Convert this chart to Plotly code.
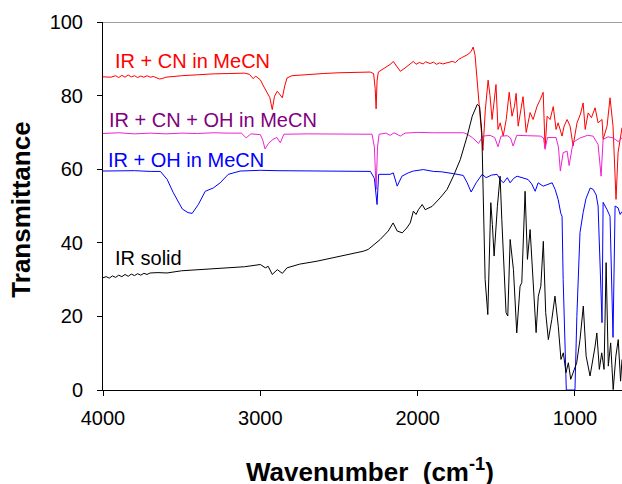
import plotly.graph_objects as go

# ---------------- data ----------------
red_wn = [4000, 3950, 3920, 3900, 3880, 3860, 3840, 3820, 3800, 3780, 3760, 3740, 3720, 3700, 3680, 3660,
          3640, 3620, 3600, 3500, 3400, 3300, 3200, 3100, 3070, 3045, 3030, 3000, 2980, 2960, 2940, 2924,
          2910, 2892, 2875, 2860, 2845, 2830, 2800, 2700, 2600, 2500, 2400, 2302, 2280, 2270, 2264, 2258,
          2250, 2220, 2190, 2170, 2155, 2140, 2120, 2110, 2080, 2050, 2027, 2010, 1990, 1964, 1950, 1920,
          1900, 1880, 1860, 1840, 1820, 1800, 1780, 1760, 1740, 1720, 1700, 1680, 1660, 1647, 1635, 1620,
          1607, 1595, 1585, 1570, 1552, 1540, 1527, 1515, 1502, 1489, 1475, 1456, 1437, 1418, 1400, 1385,
          1374, 1361, 1345, 1330, 1310, 1298, 1285, 1266, 1241, 1221, 1202, 1190, 1177, 1158, 1138, 1120,
          1107, 1082, 1069, 1050, 1031, 1012, 987, 965, 948, 935, 916, 895, 872, 853, 828, 821, 796, 777,
          758, 739, 726, 701]
red_t = [85.1, 85.0, 85.4, 84.9, 85.5, 85.0, 85.6, 85.1, 85.4, 84.9, 85.3, 85.0, 85.4, 85.0, 85.2, 84.8,
         84.5, 84.7, 85.0, 85.4, 85.7, 85.9, 86.0, 86.1, 85.8, 84.6, 85.3, 84.3, 82.6, 81.0, 79.5, 76.2,
         79.8, 81.2, 80.2, 79.4, 82.6, 84.8, 85.4, 85.8, 86.0, 86.2, 86.3, 86.4, 86.0, 82.0, 76.4, 84.0,
         86.4, 87.2, 88.0, 88.6, 89.3, 88.3, 87.0, 86.6, 87.5, 88.4, 89.3, 88.5, 89.0, 88.6, 89.2, 88.7,
         89.1, 88.5, 88.9, 88.6, 88.9, 89.0, 89.3, 89.0, 89.8, 90.3, 90.8, 91.2, 92.0, 93.2, 91.0, 83.0,
         75.4, 69.0, 65.1, 76.0, 84.2, 80.0, 73.5, 78.0, 83.0, 70.8, 72.6, 69.0, 73.5, 80.9, 74.4, 77.0,
         80.6, 71.7, 76.0, 79.7, 70.0, 73.0, 75.4, 73.5, 77.1, 78.9, 80.9, 65.8, 74.4, 73.5, 77.0, 70.8,
         72.6, 69.0, 71.7, 73.5, 71.7, 66.3, 72.6, 75.0, 78.0, 70.8, 75.3, 74.0, 76.7, 72.6, 73.5, 68.1,
         71.7, 79.4, 71.7, 51.8, 64.5, 71.3]

mag_wn = [4000, 3900, 3800, 3700, 3600, 3500, 3400, 3300, 3200, 3120, 3090, 3060, 3000, 2985, 2970, 2948,
          2920, 2895, 2873, 2850, 2700, 2500, 2350, 2290, 2275, 2264, 2255, 2245, 2200, 2175, 2150, 2110,
          2080, 2000, 1900, 1800, 1707, 1680, 1650, 1613, 1585, 1540, 1510, 1489, 1470, 1430, 1410, 1393,
          1370, 1300, 1220, 1200, 1190, 1175, 1120, 1105, 1093, 1075, 1050, 1037, 1012, 967, 920, 885,
          853, 834, 821, 790, 758, 740, 726, 701]
mag_t = [69.7, 69.9, 69.6, 69.8, 69.6, 69.8, 69.7, 69.9, 69.8, 69.8, 68.5, 69.6, 69.4, 68.0, 65.5, 67.0,
         68.1, 68.6, 67.2, 69.5, 69.6, 69.5, 69.6, 69.5, 66.0, 54.5, 66.0, 69.5, 69.8, 69.2, 69.9, 69.0,
         69.8, 70.0, 69.9, 70.0, 69.9, 69.4, 68.5, 67.0, 69.0, 69.2, 68.6, 66.1, 69.0, 69.1, 68.5, 66.3,
         69.2, 69.1, 69.0, 68.5, 65.4, 68.6, 68.6, 66.0, 59.5, 64.5, 64.9, 61.0, 67.3, 68.5, 69.2, 69.0,
         66.7, 58.1, 68.1, 68.8, 68.5, 68.0, 67.5, 68.5]

blue_wn = [4000, 3800, 3700, 3635, 3592, 3553, 3496, 3460, 3433, 3394, 3350, 3299, 3255, 3204, 3128, 3000,
           2900, 2700, 2500, 2300, 2275, 2258, 2248, 2200, 2175, 2155, 2130, 2100, 2060, 2027, 1964, 1900,
           1850, 1773, 1710, 1685, 1660, 1628, 1590, 1565, 1530, 1495, 1475, 1455, 1430, 1412, 1390, 1368,
           1330, 1298, 1275, 1253, 1234, 1202, 1177, 1145, 1126, 1107, 1090, 1082, 1075, 1063, 1055, 1040,
           1025, 1010, 1000, 988, 968, 948, 930, 916, 903, 884, 865, 853, 840, 828, 821, 808, 796, 777,
           768, 758, 745, 726, 713, 701]
blue_t = [59.5, 59.6, 59.4, 59.4, 57.2, 53.6, 49.2, 48.2, 48.0, 50.4, 54.0, 54.9, 56.3, 58.6, 59.5, 59.7,
          59.6, 59.5, 59.5, 59.4, 57.5, 50.4, 58.6, 58.6, 58.6, 59.0, 55.4, 58.1, 59.0, 59.5, 59.9, 59.4,
          59.3, 58.8, 58.3, 56.3, 53.8, 56.3, 58.6, 57.7, 58.4, 58.6, 57.2, 56.3, 57.7, 56.3, 57.5, 58.1,
          57.7, 57.2, 56.0, 54.0, 56.3, 55.4, 55.8, 56.3, 54.5, 51.8, 48.0, 47.2, 30.0, 10.0, 0.0, 0.0,
          0.0, 0.0, 0.0, 20.0, 42.8, 48.2, 52.0, 53.5, 54.9, 54.5, 53.0, 50.0, 35.0, 18.3, 51.0, 50.0,
          49.0, 47.2, 30.0, 14.3, 50.0, 49.5, 47.7, 48.5]

blk_wn = [4000, 3980, 3960, 3940, 3920, 3900, 3880, 3860, 3840, 3820, 3800, 3780, 3760, 3740, 3720, 3700,
          3650, 3593, 3500, 3400, 3300, 3170, 3100, 3000, 2968, 2950, 2924, 2892, 2860, 2830, 2750, 2640,
          2500, 2400, 2346, 2314, 2280, 2238, 2187, 2156, 2130, 2098, 2070, 2047, 2027, 2010, 1995, 1971,
          1952, 1908, 1857, 1813, 1773, 1729, 1685, 1653, 1621, 1606, 1592, 1580, 1571, 1554, 1535, 1525,
          1514, 1493, 1476, 1465, 1438, 1427, 1412, 1391, 1370, 1349, 1338, 1317, 1302, 1285, 1264, 1247,
          1233, 1217, 1201, 1186, 1169, 1147, 1127, 1106, 1089, 1074, 1057, 1042, 1027, 1010, 989, 968,
          947, 929, 904, 872, 861, 845, 830, 815, 802, 788, 773, 757, 740, 725, 710, 701]
blk_t = [30.5, 30.8, 30.4, 31.0, 30.6, 31.2, 30.8, 31.4, 30.9, 31.5, 31.1, 31.6, 31.2, 31.7, 31.4, 31.8,
         31.9, 31.8, 32.4, 32.7, 33.0, 33.2, 33.5, 34.1, 33.2, 33.6, 31.4, 32.7, 31.7, 33.2, 34.2, 35.0,
         36.2, 37.2, 37.7, 38.2, 39.5, 40.9, 43.2, 45.4, 43.2, 42.7, 44.0, 45.4, 48.6, 47.7, 49.0, 50.4,
         49.0, 49.9, 52.2, 54.5, 58.1, 62.6, 69.0, 74.4, 77.6, 77.0, 70.0, 45.0, 30.0, 20.5, 50.9, 45.0,
         36.4, 49.9, 58.1, 46.3, 21.0, 20.1, 40.9, 32.7, 15.5, 28.2, 29.2, 54.0, 35.5, 43.6, 27.2, 15.6,
         25.5, 28.2, 40.4, 21.0, 13.7, 19.2, 25.5, 17.3, 8.3, 10.1, 4.7, 7.4, 2.9, 4.7, 7.4, 13.7,
         22.8, 9.2, 3.8, 11.9, 15.5, 5.6, 10.1, 5.6, 34.6, 6.5, 12.8, 0.1, 9.2, 13.7, 2.4, 8.3]

labels = ["IR + CN in MeCN", "IR + CN + OH in MeCN", "IR + OH in MeCN", "IR solid"]
label_x = [3935, 3973, 3979, 3935]
label_y = [89.3, 73.5, 62.6, 36.0]
label_colors = ["#FF0000", "#800080", "#0000FF", "#000000"]

x_ticks = [4000, 3000, 2000, 1000]
y_ticks = [0, 20, 40, 60, 80, 100]

# ---------------- figure ----------------
FONT = "Liberation Sans, Arial, sans-serif"
fig = go.Figure()
for wn, t, col in [(red_wn, red_t, "#FF0000"), (mag_wn, mag_t, "#EE22D0"),
                   (blue_wn, blue_t, "#0000FF"), (blk_wn, blk_t, "#000000")]:
    fig.add_trace(go.Scatter(x=wn, y=t, mode="lines", line=dict(color=col, width=1),
                             showlegend=False, hoverinfo="skip"))

for txt, x, y, c in zip(labels, label_x, label_y, label_colors):
    fig.add_annotation(x=x, y=y, xref="x", yref="y", text=txt, showarrow=False,
                       xanchor="left", yanchor="middle", font=dict(family=FONT, size=20, color=c))

fig.add_annotation(x=0.515, y=-0.218, xref="paper", yref="paper",
                   text="<b>Wavenumber\u00a0\u00a0(cm<sup>-1</sup>)</b>", showarrow=False,
                   xanchor="center", yanchor="middle", font=dict(family=FONT, size=26, color="black"))
fig.add_annotation(x=-0.158, y=0.49, xref="paper", yref="paper", text="<b>Transmittance</b>",
                   textangle=-90, showarrow=False, xanchor="center", yanchor="middle",
                   font=dict(family=FONT, size=26, color="black"))

fig.add_shape(type="line", xref="paper", yref="y", x0=0, x1=1, y0=100, y1=100,
              line=dict(color="#808080", width=1.5), layer="above")

fig.update_layout(
    width=622, height=484,
    margin=dict(l=103, r=0, t=22, b=94),
    paper_bgcolor="white", plot_bgcolor="white",
    font=dict(family=FONT, size=20, color="black"),
    xaxis=dict(range=[4000, 701], tickvals=x_ticks, ticks="outside", ticklen=5, tickcolor="black",
               showline=True, linecolor="black", linewidth=1, showgrid=False, zeroline=False,
               tickfont=dict(family=FONT, size=20, color="black"), ticklabelstandoff=5),
    yaxis=dict(range=[0, 100], tickvals=y_ticks, ticks="outside", ticklen=5, tickcolor="black",
               showline=True, linecolor="black", linewidth=1, showgrid=False, zeroline=False,
               tickfont=dict(family=FONT, size=20, color="black"), ticklabelstandoff=10),
)

fig.write_html("out.html", config={"displayModeBar": False},
               post_script="document.body.style.margin='0';document.body.style.overflow='hidden';")
